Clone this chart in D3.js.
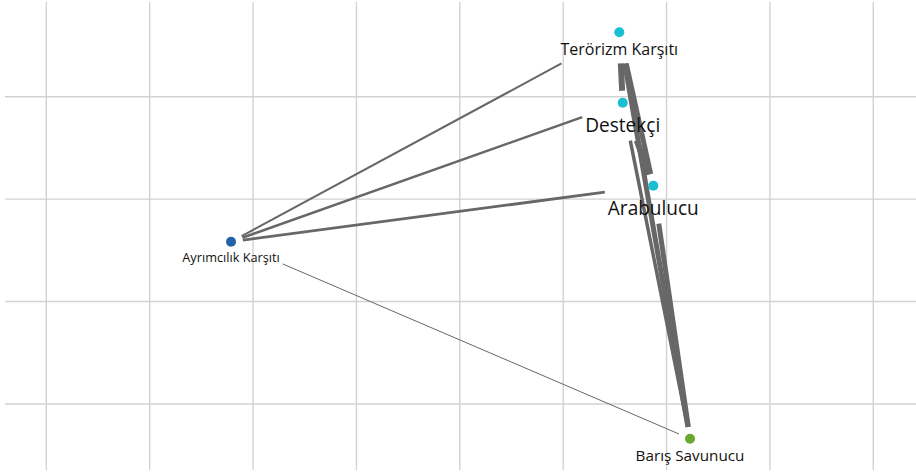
<!DOCTYPE html>
<html>
<head>
<meta charset="utf-8">
<script src="https://cdn.jsdelivr.net/npm/d3@7"></script>
<style>
  html, body { margin: 0; padding: 0; background: #fff; }
  svg { display: block; }
</style>
</head>
<body>
<div id="chart"></div>
<script>
// grid ticks (layout units)
const xTicks = [0, 1, 2, 3, 4, 5, 6, 7, 8];
const yTicks = [0, 1, 2, 3];

// nodes
const nodeNames = ['Terörizm Karşıtı', 'Destekçi', 'Arabulucu', 'Ayrımcılık Karşıtı', 'Barış Savunucu'];
const nodeX = [5.543, 5.576, 5.872, 1.787, 6.227];
const nodeY = [-0.629, 0.059, 0.869, 1.416, 3.339];
const nodeGroup = ['destek', 'destek', 'destek', 'ayrim', 'baris'];
const nodeStrength = [50, 88, 88, 9, 41];

// directed links
const linkSource = ['Ayrımcılık Karşıtı', 'Ayrımcılık Karşıtı', 'Ayrımcılık Karşıtı', 'Barış Savunucu',
  'Destekçi', 'Arabulucu', 'Barış Savunucu', 'Arabulucu', 'Barış Savunucu', 'Barış Savunucu'];
const linkTarget = ['Terörizm Karşıtı', 'Destekçi', 'Arabulucu', 'Ayrımcılık Karşıtı',
  'Terörizm Karşıtı', 'Terörizm Karşıtı', 'Terörizm Karşıtı', 'Destekçi', 'Destekçi', 'Arabulucu'];
const linkWeight = [4, 5, 5.5, 2, 12, 10, 10, 12, 7, 10];

const WIDTH = 916;
const HEIGHT = 472;

const x = d3.scaleLinear().domain([0, 8]).range([46.3, 873.3]);
const y = d3.scaleLinear().domain([0, 3]).range([96.7, 404]);
const color = d3.scaleOrdinal()
  .domain(['destek', 'ayrim', 'baris'])
  .range(['#1bbfd3', '#2362a8', '#68aa30']);
const fontSize = d3.scaleLinear().domain([0, 100]).range([12, 20]);
const strokeW = d3.scaleLinear().domain([0, 12]).range([0, 6]);

const nodes = nodeNames.map((name, i) => ({
  name, px: x(nodeX[i]), py: y(nodeY[i]), group: nodeGroup[i], fs: fontSize(nodeStrength[i]),
}));
const byName = new Map(nodes.map((n) => [n.name, n]));
const links = linkSource.map((s, i) => ({
  source: byName.get(s), target: byName.get(linkTarget[i]), w: linkWeight[i],
}));

const svg = d3.select('#chart').append('svg')
  .attr('width', WIDTH).attr('height', HEIGHT);

// grid
const grid = svg.append('g').attr('stroke', '#d2d2d2').attr('stroke-width', 1.4);
grid.selectAll('line.v').data(xTicks).join('line')
  .attr('class', 'v')
  .attr('x1', (d) => x(d)).attr('x2', (d) => x(d))
  .attr('y1', 2).attr('y2', 470);
grid.selectAll('line.h').data(yTicks).join('line')
  .attr('class', 'h')
  .attr('x1', 5).attr('x2', WIDTH)
  .attr('y1', (d) => y(d)).attr('y2', (d) => y(d));

const linkG = svg.append('g');
const nodeG = svg.append('g');

const R = 5;
nodeG.selectAll('circle').data(nodes).join('circle')
  .attr('cx', (d) => d.px).attr('cy', (d) => d.py).attr('r', R)
  .attr('fill', (d) => color(d.group));

// bigger labels sit a little lower under their dot
const labels = nodeG.selectAll('text').data(nodes).join('text')
  .attr('x', (d) => d.px)
  .attr('y', (d) => d.py + 8 + 0.95 * d.fs + Math.max(0, d.fs - 16) * 0.9)
  .attr('text-anchor', 'middle')
  .attr('font-family', '"Segoe UI", "Open Sans", sans-serif')
  .attr('font-size', (d) => d.fs)
  .attr('fill', '#111')
  .text((d) => d.name);

// node boxes: circle + label
const PAD = 3;
labels.each(function (d) {
  const b = this.getBBox();
  d.box = {
    x0: Math.min(d.px - R, b.x) - PAD,
    x1: Math.max(d.px + R, b.x + b.width) + PAD,
    y0: Math.min(d.py - R, b.y) - PAD,
    y1: Math.max(d.py + R, b.y + b.height) + PAD,
  };
});

function exitT(cx, cy, dx, dy, box) {
  const tx = dx > 0 ? (box.x1 - cx) / dx : dx < 0 ? (box.x0 - cx) / dx : Infinity;
  const ty = dy > 0 ? (box.y1 - cy) / dy : dy < 0 ? (box.y0 - cy) / dy : Infinity;
  return Math.min(tx, ty);
}

const START_OFF = 12;
links.forEach((l) => {
  const s = l.source, t = l.target;
  const dx = t.px - s.px, dy = t.py - s.py;
  const len = Math.hypot(dx, dy);
  const t0 = START_OFF / len;
  const t1 = 1 - exitT(t.px, t.py, -dx, -dy, t.box);
  l.x1 = s.px + dx * t0; l.y1 = s.py + dy * t0;
  l.x2 = s.px + dx * t1; l.y2 = s.py + dy * t1;
});

linkG.selectAll('line').data(links).join('line')
  .attr('x1', (d) => d.x1).attr('y1', (d) => d.y1)
  .attr('x2', (d) => d.x2).attr('y2', (d) => d.y2)
  .attr('stroke', '#676767')
  .attr('stroke-width', (d) => strokeW(d.w));
</script>
</body>
</html>
